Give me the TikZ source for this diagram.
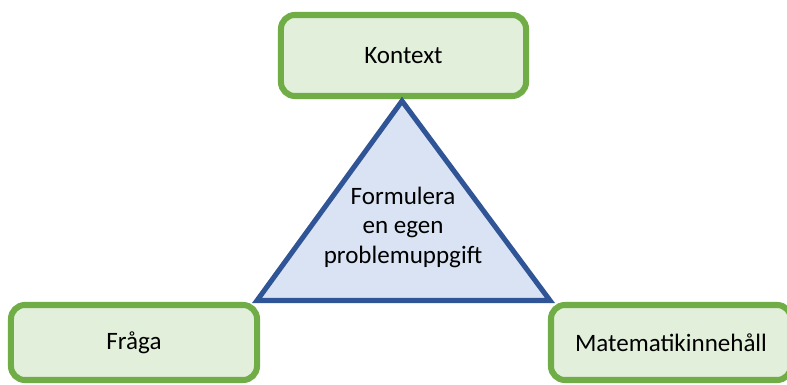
\documentclass[tikz,border=0pt]{standalone}
\usepackage{fontspec}
\setmainfont{Carlito}
\definecolor{boxgreen}{HTML}{70AD47}
\definecolor{boxfill}{HTML}{E2EFDA}
\definecolor{triblue}{HTML}{2F5597}
\definecolor{trifill}{HTML}{DAE3F3}
\begin{document}
\begin{tikzpicture}[x=0.025cm,y=-0.025cm,
    aspect/.style={draw=boxgreen, fill=boxfill, line width=4.3pt,
      rounded corners=0.35cm, minimum width=6.15cm, minimum height=1.875cm,
      font=\fontsize{17.8}{21}\selectfont}]
      \useasboundingbox (0,0) rectangle (787,385);
      \clip (0,0) rectangle (787,385);
      \node[aspect, minimum width=6.125cm, minimum height=2.025cm] (kontext) at (403.5,55.5) {Kontext};
      \node[aspect] (fraga) at (134,342.5) {Fråga};
      \node[aspect, minimum width=6cm] (matte) at (671,342.5) {Matematikinnehåll};
      \coordinate (A) at (402,101);
      \coordinate (B) at (257,300.5);
      \coordinate (C) at (550,300.5);
      \draw[draw=triblue, fill=trifill, line width=3.6pt, line join=miter]
      (A) -- (B) -- (C) -- cycle;
      \node[align=center, font=\fontsize{17.8}{21}\selectfont] (uppgift) at (403,227)
      {Formulera\\en egen\\problemuppgift};
    \end{tikzpicture}
\end{document}
